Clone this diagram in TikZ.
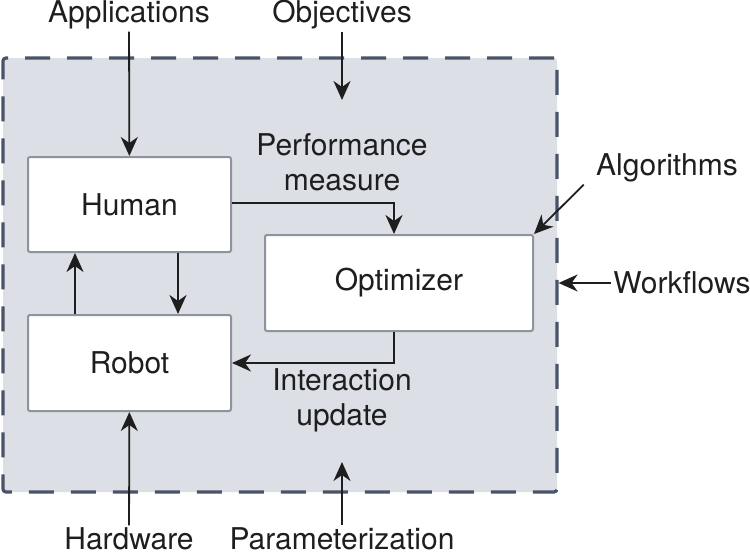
\documentclass[tikz,border=0pt]{standalone}
\usepackage{fontspec}
\setmainfont{TeX Gyre Heros}
\usetikzlibrary{arrows.meta}

\definecolor{panelfill}{HTML}{DCDFE6}
\definecolor{paneldash}{HTML}{4A5468}
\definecolor{boxline}{HTML}{8E949C}
\definecolor{ink}{HTML}{1E1E1E}

\begin{document}
\begin{tikzpicture}[x=0.5pt, y=-0.5pt,
      every node/.style={font=\fontsize{15}{17.5}\selectfont, text=ink, align=center, inner sep=1pt},
      block/.style={draw=boxline, fill=white, line width=1pt, rounded corners=1pt, inner sep=0pt},
      flow/.style={draw=ink, line width=0.9pt, -{Stealth[length=9.5pt, width=8.5pt, inset=3pt]}}]
  \useasboundingbox (0,0) rectangle (750,557);

  % dashed panel
  \node [draw=paneldash, fill=panelfill, line width=1.6pt, dash pattern=on 12.5pt off 8.5pt,
         rounded corners=1.5pt, minimum width=277pt, minimum height=217pt, inner sep=0pt] (panel) at (280,275) {};

  % blocks
  \node [block, minimum width=101.5pt, minimum height=47.5pt] (human) at (129.5,204.5) {Human};
  \node [block, minimum width=101.5pt, minimum height=48pt] (robot) at (129.5,363) {Robot};
  \node [block, minimum width=134pt, minimum height=48pt] (optim) at (399,283) {Optimizer};

  % labels
  \node (app) at (129,15) {Applications};
  \node (obj) at (342,15) {Objectives};
  \node (perf) at (342,162) {Performance\\measure};
  \node (inter) at (342,400) {Interaction\\update};
  \node (hw) at (129,539) {Hardware};
  \node (param) at (342,539) {Parameterization};
  \node (alg) at (667,168) {Algorithms};
  \node (wf) at (682,283) {Workflows};

  \coordinate (objtip) at (342,100);
  \coordinate (paramtip) at (342,462);

  % connectors
  \draw [flow] (app) -- (human);
  \draw [flow] (obj) -- (objtip);
  \draw [flow] (human.east |- 0,203) -| ([xshift=-2.5pt]optim.north);
  \draw [flow] ([xshift=-2.5pt]optim.south) |- (robot.east);
  \draw [flow] ([xshift=24.25pt]human.south) -- ([xshift=24.25pt]robot.north);
  \draw [flow] ([xshift=-27.25pt]robot.north) -- ([xshift=-27.25pt]human.south);
  \draw [flow] (hw) -- (robot);
  \draw [flow] (param) -- (paramtip);
  \draw [flow] ([xshift=-5pt]alg.south west) -- (optim.north east);
  \draw [flow] (wf) -- (wf -| panel.east);
\end{tikzpicture}
\end{document}
